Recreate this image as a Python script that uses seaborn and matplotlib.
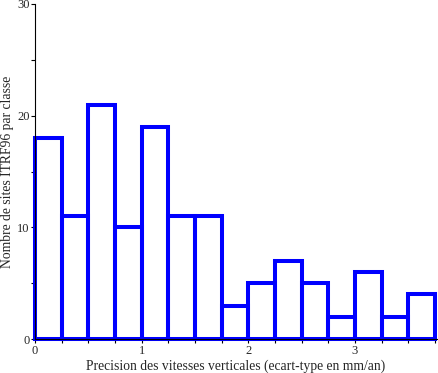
import numpy as np
import pandas as pd
import matplotlib
matplotlib.use("Agg")
import matplotlib.pyplot as plt
import seaborn as sns
from matplotlib.ticker import MultipleLocator

bin_left = [0.0, 0.25, 0.5, 0.75, 1.0, 1.25, 1.5, 1.75, 2.0, 2.25, 2.5, 2.75, 3.0, 3.25, 3.5]
counts = [18, 11, 21, 10, 19, 11, 11, 3, 5, 7, 5, 2, 6, 2, 4]
bin_width = 0.25
xlabel = "Precision des vitesses verticales (ecart-type en mm/an)"
ylabel = "Nombre de sites ITRF96 par classe"

sns.set_style("ticks")
plt.rcParams['font.family'] = ['Liberation Serif', 'DejaVu Serif']

edges = list(bin_left) + [bin_left[-1] + bin_width]
df = pd.DataFrame({"x": [b + bin_width / 2 for b in bin_left], "n": counts})

fig = plt.figure(figsize=(4.39, 3.73), dpi=100)
ax = fig.add_axes([35/439, 1 - 339/373, (437 - 35)/439, (339 - 4)/373])
sns.histplot(data=df, x="x", weights="n", bins=edges, fill=False,
             element="bars", color="#0000ff", linewidth=2.9, ax=ax, clip_on=False)
ax.set_xlim(0, 3.77)
ax.set_ylim(0, 30)
ax.xaxis.set_major_locator(MultipleLocator(1))
ax.xaxis.set_minor_locator(MultipleLocator(0.25))
ax.yaxis.set_major_locator(MultipleLocator(10))
ax.yaxis.set_minor_locator(MultipleLocator(5))
ax.tick_params(axis='both', which='both', length=3, width=0.8, labelsize=9, pad=1, color='black')
for s in ['top', 'right']:
    ax.spines[s].set_visible(False)
for s in ['left', 'bottom']:
    ax.spines[s].set_linewidth(0.8)
    ax.spines[s].set_color('black')
ax.set_xlabel(xlabel, fontsize=9.8, labelpad=2)
ax.set_ylabel(ylabel, fontsize=9.8, labelpad=2)
fig.savefig("out.png", dpi=100)
